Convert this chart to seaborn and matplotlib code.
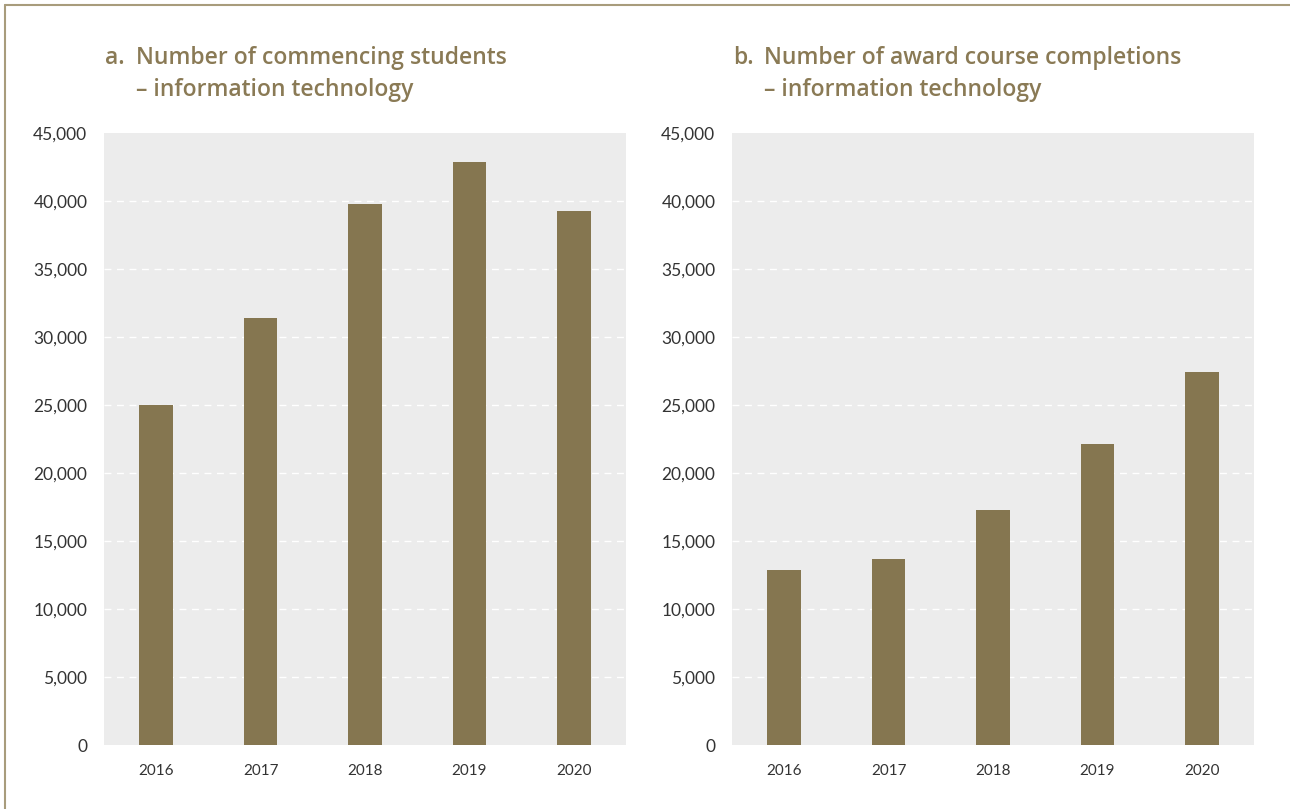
import matplotlib
matplotlib.use("Agg")
import matplotlib.pyplot as plt
import seaborn as sns
import pandas as pd
import numpy as np
from matplotlib.ticker import FuncFormatter
from matplotlib.lines import Line2D

# Data
years = ["2016", "2017", "2018", "2019", "2020"]
commencing = [25000, 31400, 39800, 42900, 39300]
completions = [12900, 13700, 17300, 22100, 27400]
y_ticks = np.arange(0, 45001, 5000)

bar_color = "#857650"
title_color = "#8a7a55"
panel_bg = "#ececec"
frame_color = "#a89c7c"

sns.set_style("white")
plt.rcParams["font.family"] = ["Lato", "DejaVu Sans"]

fig = plt.figure(figsize=(12.9, 8.09), dpi=100)
ax_a = fig.add_axes([104 / 1290, 1 - 745 / 809, 522 / 1290, 612 / 809])
ax_b = fig.add_axes([732 / 1290, 1 - 745 / 809, 522 / 1290, 612 / 809])

panels = [
    (ax_a, commencing, "a.", "Number of commencing students", "\u2013 information technology"),
    (ax_b, completions, "b.", "Number of award course completions", "\u2013 information technology"),
]

title_font = dict(fontsize=16.5, fontweight="semibold", color=title_color,
                  va="center", ha="left", family=["Open Sans", "DejaVu Sans"])

for ax, vals, letter, line1, line2 in panels:
    df = pd.DataFrame({"Year": years, "Value": vals})
    sns.barplot(data=df, x="Year", y="Value", color=bar_color, width=0.32,
                saturation=1, linewidth=0, ax=ax, zorder=3)
    ax.set_facecolor(panel_bg)
    ax.set_xlim(-0.5, 4.5)
    ax.set_ylim(y_ticks[0], y_ticks[-1])
    ax.set_yticks(y_ticks)
    ax.yaxis.set_major_formatter(FuncFormatter(lambda v, p: f"{int(v):,}"))
    # white dashed gridlines only for the inner ticks
    ax.hlines(y_ticks[1:-1], -0.5, 4.5, colors="white", linestyles=(0, (5, 4)),
              linewidth=1, zorder=1)
    for s in ax.spines.values():
        s.set_visible(False)
    ax.tick_params(axis="y", length=0, labelsize=12.5, labelcolor="#333333", pad=12)
    ax.tick_params(axis="x", length=0, labelsize=11, labelcolor="#333333", pad=14)
    ax.set_xlabel("")
    ax.set_ylabel("")
    # Two-line title with hanging indent
    bbox = ax.get_position()
    x0 = bbox.x0 + 1 / 1290
    fig.text(x0, 1 - 58 / 809, letter, **title_font)
    fig.text(x0 + 31 / 1290, 1 - 58 / 809, line1, **title_font)
    fig.text(x0 + 31 / 1290, 1 - 90 / 809, line2, **title_font)

# Frame lines at top and left
fig.add_artist(Line2D([5 / 1290, 1], [1 - 5 / 809, 1 - 5 / 809], color=frame_color,
                      linewidth=1.5, transform=fig.transFigure))
fig.add_artist(Line2D([5 / 1290, 5 / 1290], [0, 1 - 5 / 809], color=frame_color,
                      linewidth=1.5, transform=fig.transFigure))

fig.savefig("out.png", dpi=100, facecolor="white")
